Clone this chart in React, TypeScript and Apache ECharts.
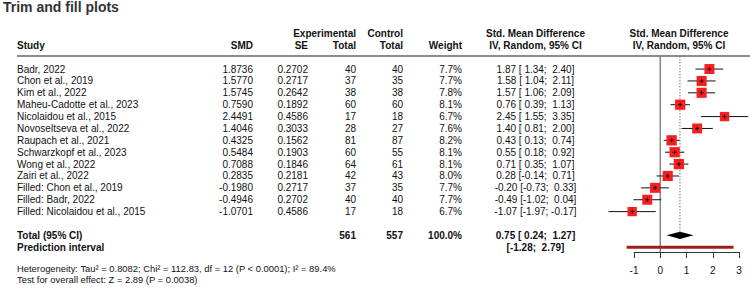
import { useEffect, useRef } from "react";
import * as echarts from "echarts";

// ---- study-level data ----
const studies = [
  "Badr, 2022",
  "Chon et al., 2019",
  "Kim et al., 2022",
  "Maheu-Cadotte et al., 2023",
  "Nicolaidou et al., 2015",
  "Novoseltseva et al., 2022",
  "Raupach et al., 2021",
  "Schwarzkopf et al., 2023",
  "Wong et al., 2022",
  "Zairi et al., 2022",
  "Filled: Chon et al., 2019",
  "Filled: Badr, 2022",
  "Filled: Nicolaidou et al., 2015",
];
const smd = [1.8736, 1.577, 1.5745, 0.759, 2.4491, 1.4046, 0.4325, 0.5484, 0.7088, 0.2835, -0.198, -0.4946, -1.0701];
const se = [0.2702, 0.2717, 0.2642, 0.1892, 0.4586, 0.3033, 0.1562, 0.1903, 0.1846, 0.2181, 0.2717, 0.2702, 0.4586];
const expTotal = [40, 37, 38, 60, 17, 28, 81, 60, 64, 42, 37, 40, 17];
const ctrlTotal = [40, 35, 38, 60, 18, 27, 87, 55, 61, 43, 35, 40, 18];
const weights = [7.7, 7.7, 7.8, 8.1, 6.7, 7.6, 8.2, 8.1, 8.1, 8.0, 7.7, 7.7, 6.7];
const ciLower = [1.34, 1.04, 1.06, 0.39, 1.55, 0.81, 0.13, 0.18, 0.35, -0.14, -0.73, -1.02, -1.97];
const ciUpper = [2.4, 2.11, 2.09, 1.13, 3.35, 2.0, 0.74, 0.92, 1.07, 0.71, 0.33, 0.04, -0.17];

// ---- pooled results ----
const pooled = [0.75, 0.24, 1.27]; // estimate, lower, upper
const predictionInterval = [-1.28, 2.79];
const totals = [561, 557, 100.0]; // experimental, control, weight %
const footerLines = [
  "Heterogeneity: Tau\u00b2 = 0.8082; Chi\u00b2 = 112.83, df = 12 (P < 0.0001); I\u00b2 = 89.4%",
  "Test for overall effect: Z = 2.89 (P = 0.0038)",
];
const xTicks = [-1, 0, 1, 2, 3];

// ---- layout ----
const FONT = '"Liberation Sans", Arial, Helvetica, sans-serif';
const COL = {
  study: 17,
  smd: 253,
  se: 308,
  expTotal: 356,
  ctrlTotal: 403,
  weight: 462,
  ci: 535.5,
  plotHeader: 679,
  ruleEnd: 750,
};
const Y_MIN = -1.1;
const Y_MAX = 15.4;
const TOTAL_ROW = 14;
const PRED_ROW = 15;

const pad = (s: string, n: number) => (s.length >= n ? s : "\u00a0".repeat(n - s.length) + s);
const ciText = (est: number | null, lo: number, hi: number) =>
  (est === null ? "" : est.toFixed(2) + " ") + "[" + pad(lo.toFixed(2), 5) + ";\u00a0" + pad(hi.toFixed(2), 5) + "]";

type Cell = { x: number; row: number; text: string; align: "left" | "right" | "center"; bold?: boolean; size?: number };

function buildCells(): Cell[] {
  const cells: Cell[] = [];
  const h = (x: number, row: number, text: string, align: Cell["align"]) =>
    cells.push({ x, row, text, align, bold: true });
  h(COL.study, -2, "Study", "left");
  h(COL.smd, -2, "SMD", "right");
  h(COL.se, -2, "SE", "right");
  h(COL.expTotal, -3, "Experimental", "right");
  h(COL.expTotal, -2, "Total", "right");
  h(COL.ctrlTotal, -3, "Control", "right");
  h(COL.ctrlTotal, -2, "Total", "right");
  h(COL.weight, -2, "Weight", "right");
  h(COL.ci, -3, "Std. Mean Difference", "center");
  h(COL.ci, -2, "IV, Random, 95% CI", "center");
  h(COL.plotHeader, -3, "Std. Mean Difference", "center");
  h(COL.plotHeader, -2, "IV, Random, 95% CI", "center");

  studies.forEach((name, i) => {
    cells.push({ x: COL.study, row: i, text: name, align: "left" });
    cells.push({ x: COL.smd, row: i, text: smd[i].toFixed(4), align: "right" });
    cells.push({ x: COL.se, row: i, text: se[i].toFixed(4), align: "right" });
    cells.push({ x: COL.expTotal, row: i, text: String(expTotal[i]), align: "right" });
    cells.push({ x: COL.ctrlTotal, row: i, text: String(ctrlTotal[i]), align: "right" });
    cells.push({ x: COL.weight, row: i, text: weights[i].toFixed(1) + "%", align: "right" });
    cells.push({ x: COL.ci, row: i, text: ciText(smd[i], ciLower[i], ciUpper[i]), align: "center" });
  });

  h(COL.study, TOTAL_ROW, "Total (95% CI)", "left");
  h(COL.expTotal, TOTAL_ROW, String(totals[0]), "right");
  h(COL.ctrlTotal, TOTAL_ROW, String(totals[1]), "right");
  h(COL.weight, TOTAL_ROW, totals[2].toFixed(1) + "%", "right");
  h(COL.ci, TOTAL_ROW, ciText(pooled[0], pooled[1], pooled[2]), "center");
  h(COL.study, PRED_ROW, "Prediction interval", "left");
  h(COL.ci, PRED_ROW, ciText(null, predictionInterval[0], predictionInterval[1]), "center");

  cells.push({ x: COL.study, row: 16.75, text: footerLines[0], align: "left", size: 9.4 });
  cells.push({ x: COL.study, row: 17.68, text: footerLines[1], align: "left", size: 9.4 });
  return cells;
}

export default function App() {
  const ref = useRef<HTMLDivElement>(null);

  useEffect(() => {
    if (!ref.current) return;
    const chart = echarts.init(ref.current, undefined, { renderer: "svg" });
    const cells = buildCells();

    const gridBase = { top: 56, height: 196, containLabel: false, outerBoundsMode: "none" };

    const option: any = {
      animation: false,
      backgroundColor: "#ffffff",
      title: {
        text: "Trim and fill plots",
        left: 3,
        top: 0,
        padding: 0,
        textStyle: { fontSize: 14, fontWeight: "bold", color: "#333", fontFamily: FONT },
      },
      grid: [
        { ...gridBase, left: 634, width: 105 },
        { ...gridBase, left: 0, width: 750 },
      ],
      xAxis: [
        {
          gridIndex: 0,
          type: "value",
          position: "bottom",
          min: xTicks[0],
          max: xTicks[xTicks.length - 1],
          interval: 1,
          axisLine: { show: true, onZero: false, lineStyle: { color: "#333", width: 1 } },
          axisTick: { show: true, length: 6, lineStyle: { color: "#333", width: 1 } },
          axisLabel: { fontSize: 10, color: "#111", fontFamily: FONT, margin: 13 },
          splitLine: { show: false },
        },
        { gridIndex: 1, type: "value", min: 0, max: 750, show: false },
      ],
      yAxis: [
        { gridIndex: 0, type: "value", inverse: true, min: Y_MIN, max: Y_MAX, show: false },
        { gridIndex: 1, type: "value", inverse: true, min: Y_MIN, max: Y_MAX, show: false },
      ],
      series: [
        // header rule across the table and plot
        {
          type: "custom",
          xAxisIndex: 1,
          yAxisIndex: 1,
          clip: false,
          silent: true,
          data: [[COL.study, Y_MIN, COL.ruleEnd]],
          renderItem: (_p: any, api: any) => {
            const a = api.coord([api.value(0), api.value(1)]);
            const b = api.coord([api.value(2), api.value(1)]);
            return {
              type: "line",
              shape: { x1: a[0], y1: a[1], x2: b[0], y2: b[1] },
              style: { stroke: "#666", lineWidth: 1.5 },
            };
          },
        },
        // table text
        {
          type: "custom",
          xAxisIndex: 1,
          yAxisIndex: 1,
          clip: false,
          silent: true,
          data: cells.map((c) => [c.x, c.row]),
          renderItem: (params: any, api: any) => {
            const c = cells[params.dataIndex];
            const p = api.coord([api.value(0), api.value(1)]);
            return {
              type: "text",
              x: p[0],
              y: p[1],
              style: {
                text: c.text,
                align: c.align,
                verticalAlign: "middle",
                textAlign: c.align,
                textVerticalAlign: "middle",
                fontSize: c.size ?? 10,
                fontWeight: c.bold ? "bold" : "normal",
                fontFamily: FONT,
                fill: "#111",
              },
            };
          },
        },
        // reference lines: no effect (solid) and pooled estimate (dotted)
        {
          type: "custom",
          xAxisIndex: 0,
          yAxisIndex: 0,
          clip: false,
          silent: true,
          data: [
            [0, Y_MIN, Y_MAX, 0],
            [pooled[0], Y_MIN, TOTAL_ROW, 1],
          ],
          renderItem: (_p: any, api: any) => {
            const a = api.coord([api.value(0), api.value(1)]);
            const b = api.coord([api.value(0), api.value(2)]);
            const dotted = api.value(3) === 1;
            return {
              type: "line",
              shape: { x1: a[0], y1: a[1], x2: b[0], y2: b[1] },
              style: dotted
                ? { stroke: "#777", lineWidth: 1, lineDash: [1.5, 1.5] }
                : { stroke: "#777", lineWidth: 1.3 },
            };
          },
        },
        // study estimates: CI whisker, weighted square, centre cross
        {
          type: "custom",
          xAxisIndex: 0,
          yAxisIndex: 0,
          clip: false,
          silent: true,
          data: studies.map((_, i) => [smd[i], i, ciLower[i], ciUpper[i], weights[i]]),
          renderItem: (_p: any, api: any) => {
            const row = api.value(1);
            const c = api.coord([api.value(0), row]);
            const lo = api.coord([api.value(2), row]);
            const hi = api.coord([api.value(3), row]);
            const s = 3.6 * Math.sqrt(api.value(4));
            return {
              type: "group",
              children: [
                {
                  type: "line",
                  shape: { x1: lo[0], y1: c[1], x2: hi[0], y2: c[1] },
                  style: { stroke: "#111", lineWidth: 1 },
                },
                {
                  type: "rect",
                  shape: { x: c[0] - s / 2, y: c[1] - s / 2, width: s, height: s },
                  style: { fill: "#f61e1e" },
                },
                {
                  type: "line",
                  shape: { x1: c[0], y1: c[1] - 2, x2: c[0], y2: c[1] + 2 },
                  style: { stroke: "#111", lineWidth: 1 },
                },
                {
                  type: "line",
                  shape: { x1: c[0] - 2, y1: c[1], x2: c[0] + 2, y2: c[1] },
                  style: { stroke: "#111", lineWidth: 1 },
                },
              ],
            };
          },
        },
        // pooled diamond and prediction interval bar
        {
          type: "custom",
          xAxisIndex: 0,
          yAxisIndex: 0,
          clip: false,
          silent: true,
          data: [
            [pooled[0], TOTAL_ROW, pooled[1], pooled[2], 0],
            [predictionInterval[0], PRED_ROW, predictionInterval[0], predictionInterval[1], 1],
          ],
          renderItem: (_p: any, api: any) => {
            const row = api.value(1);
            const c = api.coord([api.value(0), row]);
            const lo = api.coord([api.value(2), row]);
            const hi = api.coord([api.value(3), row]);
            if (api.value(4) === 0) {
              const hh = 3.6;
              return {
                type: "polygon",
                shape: {
                  points: [
                    [lo[0], c[1]],
                    [c[0], c[1] - hh],
                    [hi[0], c[1]],
                    [c[0], c[1] + hh],
                  ],
                },
                style: { fill: "#000" },
              };
            }
            return {
              type: "rect",
              shape: { x: lo[0], y: c[1] - 1.6, width: hi[0] - lo[0], height: 3.2 },
              style: { fill: "#a01c1c" },
            };
          },
        },
      ],
    };

    chart.setOption(option);
    return () => chart.dispose();
  }, []);

  return (
    <div
      ref={ref}
      style={{ position: "absolute", left: 0, top: 0, width: 750, height: 288, background: "#fff" }}
    />
  );
}
